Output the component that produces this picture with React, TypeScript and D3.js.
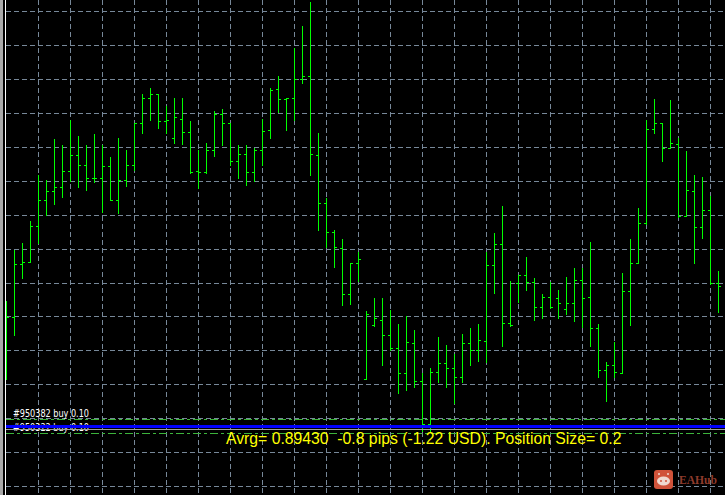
import * as d3 from 'd3'

// prices in points (1e-5), one entry per bar
const highs = [
  89682, 89784, 89798, 89842, 89934, 89924, 90006, 89994, 90044, 90012,
  89994, 90016, 89994, 89970, 90008, 89984, 90038, 90096, 90108, 90096,
  90072, 90088, 90088, 90042, 89984, 89998, 90062, 90066, 90038, 89994,
  89994, 89988, 90046, 90108, 90132, 90088, 90188, 90232, 90280, 90018,
  89888, 89824, 89806, 89758, 89780, 89662, 89688, 89688, 89664, 89636,
  89652, 89624, 89538, 89548, 89610, 89594, 89576, 89616, 89628, 89636,
  89780, 89818, 89872, 89722, 89734, 89770, 89728, 89696, 89720, 89704,
  89730, 89748, 89748, 89800, 89636, 89560, 89600, 89738, 89806, 89868,
  90044, 90086, 90038, 90084, 90008, 89982, 89934, 89930, 89892, 89742,
]
const lows = [
  89526, 89614, 89728, 89760, 89798, 89854, 89876, 89890, 89922, 89910,
  89904, 89920, 89860, 89884, 89858, 89912, 89944, 90018, 90044, 90028,
  90018, 89998, 89996, 89938, 89908, 89938, 89972, 89994, 89954, 89928,
  89914, 89922, 89954, 90008, 90060, 90024, 90044, 90118, 89934, 89824,
  89790, 89750, 89674, 89676, 89722, 89526, 89632, 89554, 89584, 89498,
  89504, 89510, 89422, 89420, 89520, 89510, 89478, 89520, 89554, 89562,
  89560, 89698, 89592, 89632, 89680, 89704, 89644, 89648, 89668, 89648,
  89656, 89642, 89630, 89592, 89530, 89482, 89530, 89538, 89634, 89758,
  89836, 90018, 89962, 89988, 89850, 89852, 89758, 89808, 89716, 89660,
]
const opens = [
  89594, 89648, 89756, 89760, 89830, 89884, 89902, 89910, 89942, 89974,
  89954, 89928, 89928, 89952, 89884, 89924, 89954, 90038, 90088, 90096,
  90042, 90008, 90046, 90018, 89942, 89940, 89982, 90056, 90036, 89962,
  89976, 89940, 89982, 90024, 90104, 90084, 90086, 90126, 90132, 89974,
  89878, 89820, 89788, 89696, 89758, 89526, 89634, 89644, 89612, 89588,
  89538, 89598, 89522, 89436, 89540, 89558, 89548, 89530, 89598, 89584,
  89602, 89754, 89794, 89638, 89718, 89734, 89720, 89670, 89690, 89688,
  89666, 89678, 89724, 89690, 89628, 89542, 89554, 89538, 89702, 89758,
  89838, 90026, 90036, 89988, 89996, 89852, 89902, 89828, 89862, 89718,
]
const closes = [
  89648, 89756, 89760, 89830, 89884, 89902, 89910, 89942, 89974, 89954,
  89928, 89928, 89952, 89884, 89924, 89954, 90038, 90088, 90096, 90042,
  90044, 90048, 90018, 89940, 89940, 89982, 90056, 90036, 89962, 89976,
  89940, 89982, 90022, 90102, 90084, 90086, 90126, 90132, 89976, 89878,
  89820, 89790, 89696, 89758, 89766, 89656, 89646, 89612, 89588, 89538,
  89600, 89522, 89436, 89540, 89558, 89548, 89530, 89598, 89584, 89604,
  89754, 89794, 89638, 89634, 89734, 89720, 89670, 89690, 89670, 89678,
  89678, 89724, 89688, 89628, 89542, 89554, 89540, 89702, 89758, 89838,
  90026, 90036, 89988, 89998, 89852, 89904, 89828, 89862, 89716, 89712,
]

const gridPrices = [
  90262, 90194, 90126, 90058, 89990, 89922, 89854, 89786,
  89718, 89652, 89584, 89516, 89448, 89380, 89312,
]
const gridBars = [4, 8, 12, 16, 20, 24, 28, 32, 36, 40, 44, 48, 52, 56, 60, 64, 68, 72, 76, 80, 84, 88]

const avgPrice = 89431
const orderAbove = 89446
const orderBelow = 89418
const closeLine = 89426
const orderLabels = ['#950382 buy 0.10', '#950322 buy 0.10']
const summary = 'Avrg= 0.89430  -0.8 pips (-1.22 USD). Position Size= 0.2'

const width = 725
const height = 495

const x = d3.scaleLinear().domain([0, 89]).range([6, 718])
const y = d3.scaleLinear().domain([90284, 89294]).range([0, 495])

const px = (v: number): number => Math.floor(v) + 0.5

export default function App(): JSX.Element {
  return (
    <svg
      width={width}
      height={height}
      style={{ position: 'fixed', left: 0, top: 0, background: '#000' }}
    >
      <g stroke="#778899" strokeWidth={1} strokeDasharray="5 3" shapeRendering="crispEdges">
        {gridPrices.map((p) => (
          <line key={p} x1={6} x2={width} y1={px(y(p))} y2={px(y(p))} />
        ))}
        {gridBars.map((b) => (
          <line key={b} x1={x(b) + 0.5} x2={x(b) + 0.5} y1={0} y2={height} />
        ))}
      </g>

      <g stroke="#00ff00" strokeWidth={1} shapeRendering="crispEdges">
        {highs.map((h, i) => (
          <g key={i}>
            <line x1={x(i) + 0.5} x2={x(i) + 0.5} y1={y(h)} y2={y(lows[i]) + 1} />
            <line x1={x(i) - 2} x2={x(i)} y1={px(y(opens[i]))} y2={px(y(opens[i]))} />
            <line x1={x(i) + 1} x2={x(i) + 3} y1={px(y(closes[i]))} y2={px(y(closes[i]))} />
          </g>
        ))}
      </g>

      <g stroke="#3cb43c" strokeWidth={1} strokeDasharray="8 3 3 3" shapeRendering="crispEdges">
        <line x1={6} x2={width} y1={px(y(orderAbove))} y2={px(y(orderAbove))} />
        <line x1={6} x2={width} y1={px(y(orderBelow))} y2={px(y(orderBelow))} />
      </g>

      <g fill="#fff" fontFamily="'DejaVu Sans', sans-serif" fontSize={10}>
        <text x={13} y={417} textLength={76} lengthAdjust="spacingAndGlyphs">{orderLabels[0]}</text>
        <text x={13} y={431} textLength={76} lengthAdjust="spacingAndGlyphs">{orderLabels[1]}</text>
      </g>

      <line x1={6} x2={width} y1={y(avgPrice)} y2={y(avgPrice)} stroke="#0000ff" strokeWidth={3} />
      <line x1={6} x2={width} y1={px(y(closeLine))} y2={px(y(closeLine))} stroke="#a0a0a0" strokeWidth={1} shapeRendering="crispEdges" />

      <text x={226} y={444} fill="#ffff00" fontFamily="'Liberation Sans', Arial, sans-serif" fontSize={15.75} style={{ whiteSpace: 'pre' }}>
        {summary}
      </text>

      {/* watermark */}
      <g>
        <rect x={654} y={470} width={19} height={19} rx={3} fill="#d0533a" />
        <ellipse cx={663.5} cy={481} rx={6.5} ry={4.5} fill="#efd9d0" />
        <circle cx={661} cy={481} r={1} fill="#d0533a" />
        <circle cx={666} cy={481} r={1} fill="#d0533a" />
        <circle cx={659} cy={474} r={1} fill="#efd9d0" />
        <circle cx={668} cy={474} r={1} fill="#efd9d0" />
        <text x={679} y={484} fill="#8e3b2c" fontFamily="'Liberation Serif', serif" fontWeight="bold" fontSize={13.5} textLength={38} lengthAdjust="spacingAndGlyphs">EAHub</text>
      </g>

      {/* left chart border */}
      <rect x={0} y={0} width={5} height={height} fill="#000" />
      <rect x={0} y={0} width={3} height={height} fill="#a8a8a8" />
      <rect x={5} y={0} width={1} height={height} fill="#fff" />
    </svg>
  )
}
